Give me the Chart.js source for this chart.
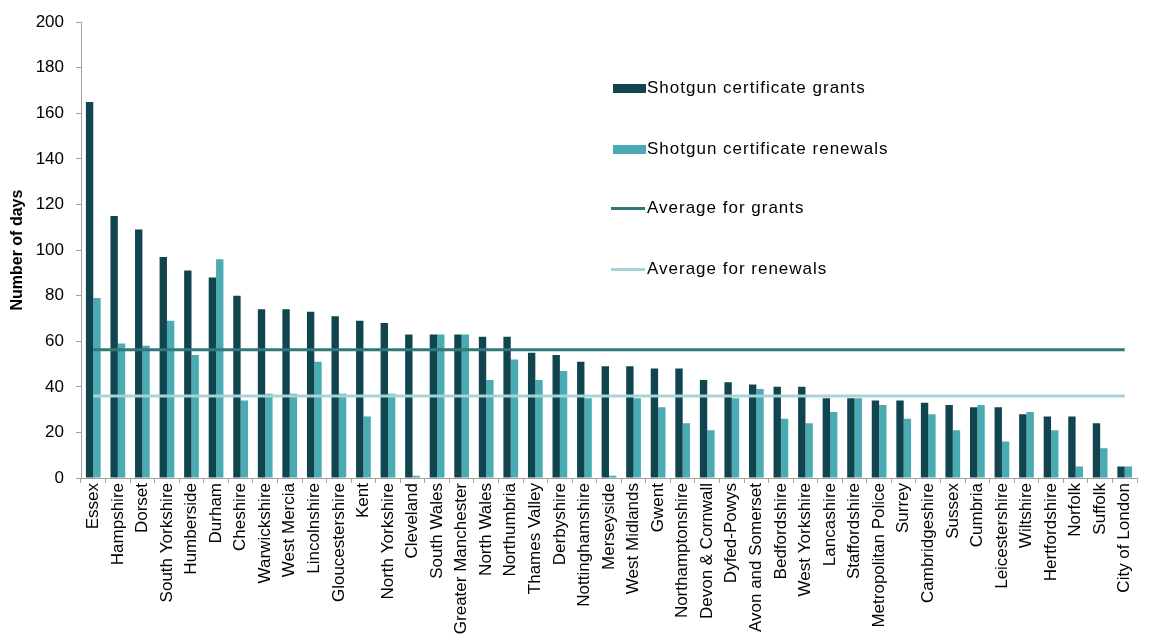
<!DOCTYPE html>
<html lang="en">
<head>
  <meta charset="UTF-8" />
  <meta name="viewport" content="width=device-width, initial-scale=1.0" />
  <title>Shotgun certificate processing times</title>

  <!-- Chart.js Library -->
  <script src="https://cdn.jsdelivr.net/npm/chart.js"></script>

  <style>
    html, body {
      margin: 0;
      padding: 0;
      background: #ffffff;
    }
    /* Chart container sizing */
    .chart-container {
      position: relative;
      width: 1171px;
      height: 635px;
    }
    /* Legend sits inside the plot, top right */
    .legend-item {
      position: absolute;
      left: 611px;
      height: 20px;
      display: flex;
      align-items: center;
      font-family: "Liberation Sans", Arial, sans-serif;
      font-size: 17px;
      letter-spacing: 1px;
      color: #000;
      white-space: nowrap;
    }
    .swatch-bar {
      width: 33px;
      height: 9px;
      margin-left: 2px;
      margin-right: 1px;
    }
    .swatch-line {
      width: 34px;
      height: 3px;
      margin-right: 2px;
    }
  </style>
</head>
<body>
  <div class="chart-container">
    <canvas id="shotgunChart" width="1171" height="635"></canvas>

    <div class="legend-item" style="top:78px;"><span class="swatch-bar" style="background:#10444f;"></span>Shotgun certificate grants</div>
    <div class="legend-item" style="top:139px;"><span class="swatch-bar" style="background:#4aacb2;"></span>Shotgun certificate renewals</div>
    <div class="legend-item" style="top:198px;"><span class="swatch-line" style="background:#327878;"></span>Average for grants</div>
    <div class="legend-item" style="top:259px;"><span class="swatch-line" style="background:#a8d4d6;"></span>Average for renewals</div>
  </div>

  <script>
    // Police force areas, sorted by grant time
    const categories = [
      "Essex", "Hampshire", "Dorset", "South Yorkshire", "Humberside", "Durham",
      "Cheshire", "Warwickshire", "West Mercia", "Lincolnshire", "Gloucestershire",
      "Kent", "North Yorkshire", "Cleveland", "South Wales", "Greater Manchester",
      "North Wales", "Northumbria", "Thames Valley", "Derbyshire", "Nottinghamshire",
      "Merseyside", "West Midlands", "Gwent", "Northamptonshire", "Devon & Cornwall",
      "Dyfed-Powys", "Avon and Somerset", "Bedfordshire", "West Yorkshire", "Lancashire",
      "Staffordshire", "Metropolitan Police", "Surrey", "Cambridgeshire", "Sussex",
      "Cumbria", "Leicestershire", "Wiltshire", "Hertfordshire", "Norfolk", "Suffolk",
      "City of London"
    ];

    // Days taken
    const grants = [
      165, 115, 109, 97, 91, 88,
      80, 74, 74, 73, 71,
      69, 68, 63, 63, 63,
      62, 62, 55, 54, 51,
      49, 49, 48, 48, 43,
      42, 41, 40, 40, 35,
      35, 34, 34, 33, 32,
      31, 31, 28, 27, 27, 24,
      5
    ];
    const renewals = [
      79, 59, 58, 69, 54, 96,
      34, 37, 37, 51, 37,
      27, 37, 1, 63, 63,
      43, 52, 43, 47, 35,
      1, 35, 31, 24, 21,
      35, 39, 26, 24, 29,
      35, 32, 26, 28, 21,
      32, 16, 29, 21, 5, 13,
      5
    ];

    // Averages drawn as flat lines
    const avgGrants = 56.3;
    const avgRenewals = 36;

    const fontFamily = '"Liberation Sans", Arial, sans-serif';
    const axisGrey = '#a0a0a0';

    const firstCat = categories[0];
    const lastCat = categories[categories.length - 1];

    const ctx = document.getElementById('shotgunChart').getContext('2d');
    const shotgunChart = new Chart(ctx, {
      type: 'bar',
      data: {
        labels: categories,
        datasets: [
          {
            label: 'Shotgun certificate grants',
            data: grants,
            backgroundColor: '#10444f',
            borderWidth: 0,
            order: 1
          },
          {
            label: 'Shotgun certificate renewals',
            data: renewals,
            backgroundColor: '#4aacb2',
            borderWidth: 0,
            order: 1
          },
          {
            type: 'line',
            label: 'Average for grants',
            data: [{ x: firstCat, y: avgGrants }, { x: lastCat, y: avgGrants }],
            borderColor: '#327878',
            borderWidth: 3,
            pointRadius: 0,
            order: 0
          },
          {
            type: 'line',
            label: 'Average for renewals',
            data: [{ x: firstCat, y: avgRenewals }, { x: lastCat, y: avgRenewals }],
            borderColor: '#a8d4d6',
            borderWidth: 3,
            pointRadius: 0,
            order: 0
          }
        ]
      },
      options: {
        responsive: false,
        animation: false,
        categoryPercentage: 0.6,
        barPercentage: 1.0,
        layout: {
          padding: { top: 18, right: 34, left: 0, bottom: 0 }
        },
        scales: {
          x: {
            grid: {
              drawOnChartArea: false,
              tickLength: 5,
              color: axisGrey
            },
            border: { color: axisGrey },
            ticks: {
              autoSkip: false,
              maxRotation: 90,
              minRotation: 90,
              padding: 0,
              color: '#000',
              font: { family: fontFamily, size: 17 }
            },
            afterFit: function (scale) {
              scale.height = 157;
            }
          },
          y: {
            min: 0,
            max: 200,
            grid: {
              drawOnChartArea: false,
              tickLength: 5,
              color: axisGrey
            },
            border: { color: axisGrey },
            ticks: {
              stepSize: 20,
              padding: 12,
              color: '#000',
              font: { family: fontFamily, size: 17 }
            },
            title: {
              display: true,
              text: 'Number of days',
              color: '#000',
              padding: { top: 8, bottom: 0 },
              font: { family: fontFamily, size: 16, weight: 'bold' }
            },
            afterFit: function (scale) {
              scale.width = 81;
            }
          }
        },
        plugins: {
          legend: { display: false },
          tooltip: { enabled: false }
        }
      }
    });
  </script>
</body>
</html>
